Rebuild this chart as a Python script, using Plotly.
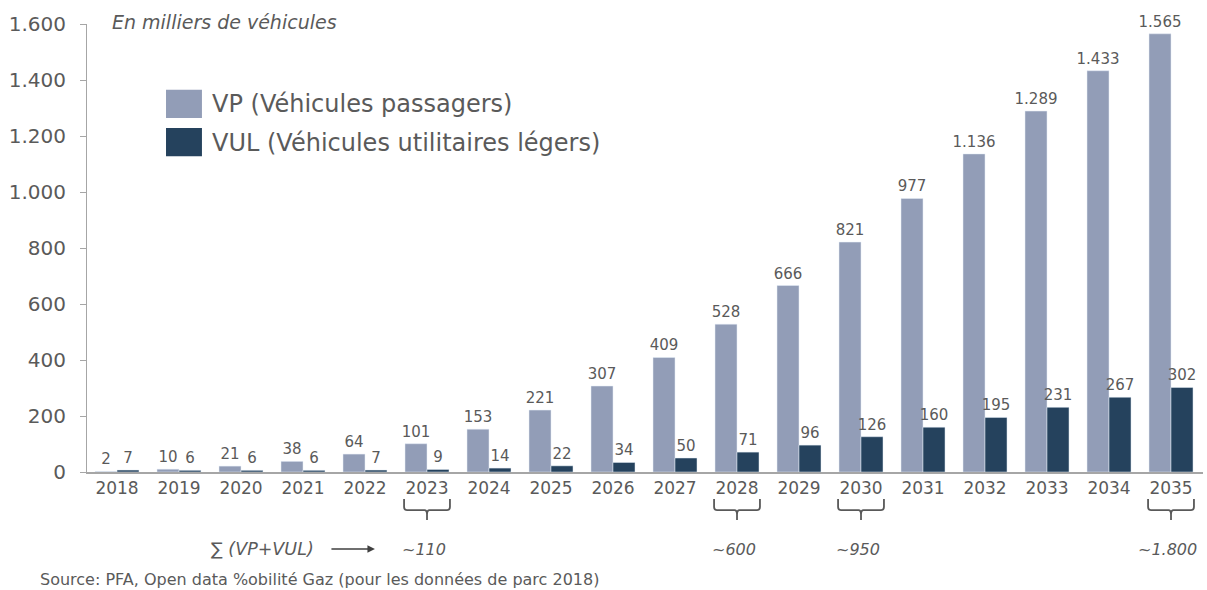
import plotly.graph_objects as go

years = [2018, 2019, 2020, 2021, 2022, 2023, 2024, 2025, 2026, 2027, 2028, 2029, 2030, 2031, 2032, 2033, 2034, 2035]
vp = [2, 10, 21, 38, 64, 101, 153, 221, 307, 409, 528, 666, 821, 977, 1136, 1289, 1433, 1565]
vul = [7, 6, 6, 6, 7, 9, 14, 22, 34, 50, 71, 96, 126, 160, 195, 231, 267, 302]
sum_years = [2023, 2028, 2030, 2035]
sum_labels = ["~110", "~600", "~950", "~1.800"]
y_ticks = [0, 200, 400, 600, 800, 1000, 1200, 1400, 1600]

VP_COLOR = "#929db7"
VUL_COLOR = "#25425d"
TXT = "#5a5a5a"
FONT = "DejaVu Sans"

fig = go.Figure()
for vals, name, col in [(vp, "VP (Véhicules passagers)", VP_COLOR),
                        (vul, "VUL (Véhicules utilitaires légers)", VUL_COLOR)]:
    fig.add_trace(go.Bar(x=years, y=vals, name=name, marker_color=col,
                         texttemplate="%{y:,.0f}", textposition="outside", constraintext="none",
                         textfont=dict(size=15, color=TXT, family=FONT), cliponaxis=False))

fig.update_layout(
    width=1207, height=590,
    margin=dict(l=87, r=4, t=24, b=118),
    paper_bgcolor="white", plot_bgcolor="white",
    barmode="group", bargap=0.29, bargroupgap=0,
    separators=",.",
    showlegend=False,
    font=dict(family=FONT, color=TXT),
    xaxis=dict(tickmode="array", tickvals=years, ticktext=[str(y) for y in years],
               range=[2017.516, 2035.516], showgrid=False, showline=True, linecolor="#a6a6a6",
               linewidth=1.5, ticks="", tickfont=dict(size=17, color=TXT), zeroline=False),
    yaxis=dict(range=[0, 1600], tickvals=y_ticks, tickformat=",d", showgrid=False,
               showline=True, linecolor="#a6a6a6", linewidth=1, ticks="outside", ticklen=6,
               tickcolor="#a6a6a6", tickfont=dict(size=20, color=TXT), zeroline=False,
               ticklabelstandoff=10),
)

# subtitle
fig.add_annotation(xref="paper", yref="paper", x=0.0206, y=1.004, xanchor="left", yanchor="middle",
                   text="<i>En milliers de véhicules</i>", showarrow=False,
                   font=dict(size=19, color=TXT, family=FONT))

# custom legend (paper coords of a 1116 px wide plot starting at x=87)
leg = [("VP (Véhicules passagers)", VP_COLOR, 0.853, 0.790, 0.821),
       ("VUL (Véhicules utilitaires légers)", VUL_COLOR, 0.768, 0.705, 0.734)]
for label, col, y1, y0, yt in leg:
    fig.add_shape(type="rect", xref="paper", yref="paper", x0=0.0708, x1=0.1030, y0=y0, y1=y1,
                  fillcolor=col, line=dict(width=0))
    fig.add_annotation(xref="paper", yref="paper", x=0.1102, y=yt, xanchor="left", yanchor="middle",
                       text=label, showarrow=False, font=dict(size=24, color=TXT, family=FONT))

# brackets and sums
for yr, lab in zip(sum_years, sum_labels):
    a, b = yr - 0.37, yr + 0.37
    path = (f"M {a},-0.060 L {a},-0.078 Q {a},-0.085 {a+0.05},-0.085 L {yr-0.04},-0.085 "
            f"Q {yr},-0.085 {yr},-0.095 L {yr},-0.107 M {yr},-0.095 Q {yr},-0.085 {yr+0.04},-0.085 "
            f"L {b-0.05},-0.085 Q {b},-0.085 {b},-0.078 L {b},-0.060")
    fig.add_shape(type="path", xref="x", yref="paper", path=path,
                  line=dict(color="#595959", width=1.8))
    fig.add_annotation(xref="x", yref="paper", x=yr - 0.05, y=-0.172, xanchor="center", yanchor="middle",
                       text=f"<i>{lab}</i>", showarrow=False, font=dict(size=16, color=TXT, family=FONT))

fig.add_annotation(xref="paper", yref="paper", x=0.157, y=-0.172, xanchor="center", yanchor="middle",
                   text="<i>∑ (VP+VUL)</i>", showarrow=False, font=dict(size=17.5, color=TXT, family=FONT))
fig.add_annotation(xref="paper", yref="paper", x=0.258, y=-0.172, text="", showarrow=True,
                   ax=-45, ay=0, arrowhead=2, arrowsize=1, arrowwidth=1.5, arrowcolor="#404040")

fig.add_annotation(xref="paper", yref="paper", x=-0.044, y=-0.241, xanchor="left", yanchor="middle",
                   text="Source: PFA, Open data %obilité Gaz (pour les données de parc 2018)",
                   showarrow=False, font=dict(size=16, color=TXT, family=FONT))

fig.write_html("out.html")
